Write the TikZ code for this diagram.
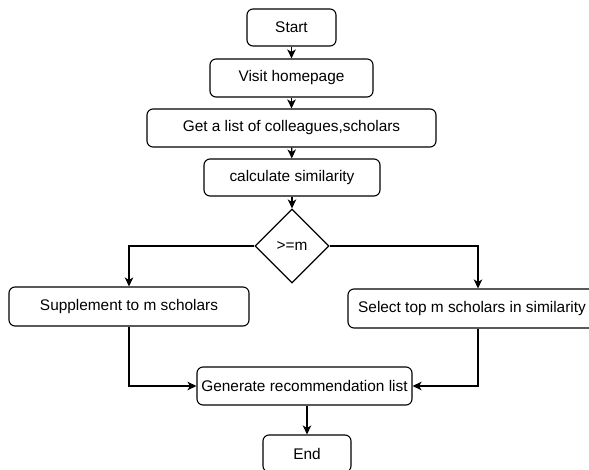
\documentclass[tikz,border=0pt]{standalone}
\usepackage{fontspec}
\setmainfont{Liberation Sans}
\usetikzlibrary{arrows.meta,shapes.geometric}

\tikzset{
  box/.style={draw, rounded corners=6pt, line width=1.1pt, inner sep=3pt,
    font=\fontsize{15.4}{18}\selectfont},
  decision/.style={draw, diamond, line width=1.1pt, inner sep=0pt, aspect=1,
    minimum width=74pt, minimum height=74pt, font=\fontsize{15.4}{18}\selectfont},
  line/.style={line width=1.2pt, -{Stealth[length=9pt,width=8.5pt,inset=2.5pt]}}
}

\begin{document}
\begin{tikzpicture}[x=1pt,y=-1pt]
\useasboundingbox (0,0) rectangle (589,470);
\clip (0,0) rectangle (589,470);

% main column
\node[box, minimum width=89pt, minimum height=37pt] (start) at (291.5,27.5) {Start};
\node[box, minimum width=163pt, minimum height=38pt] (visit) at (291.5,78) {Visit homepage};
\node[box, minimum width=289pt, minimum height=38pt] (list) at (291.5,128) {Get a list of colleagues,scholars};
\node[box, minimum width=176pt, minimum height=37pt] (simil) at (292,177.5) {calculate similarity};
\node[decision] (cmp) at (292,246) {>=m};

% the two branches
\node[box, minimum width=240pt, minimum height=39pt] (suppl) at (129,306.5) {Supplement to m scholars};
\node[box, minimum width=248pt, minimum height=39pt] (topm) at (472,308.5) {Select top m scholars in similarity};

\node[box, minimum width=215pt, minimum height=38pt, inner sep=1pt] (gen) at (304.5,386) {Generate recommendation list};
\node[box, minimum width=88pt, minimum height=37pt] (end) at (307,453.5) {End};

\draw[line] (start) -- (visit);
\draw[line] (visit) -- (list);
\draw[line] (list) -- (simil);
\draw[line] (simil) -- (cmp);
\draw[line] (cmp.west) -| (suppl.north);
\draw[line] (cmp.east) -| ([xshift=6pt]topm.north);
\draw[line] (suppl.south) |- (gen.west);
\draw[line] ([xshift=6pt]topm.south) |- (gen.east);
\draw[line] (gen.south -| end.north) -- (end.north);
\end{tikzpicture}
\end{document}
